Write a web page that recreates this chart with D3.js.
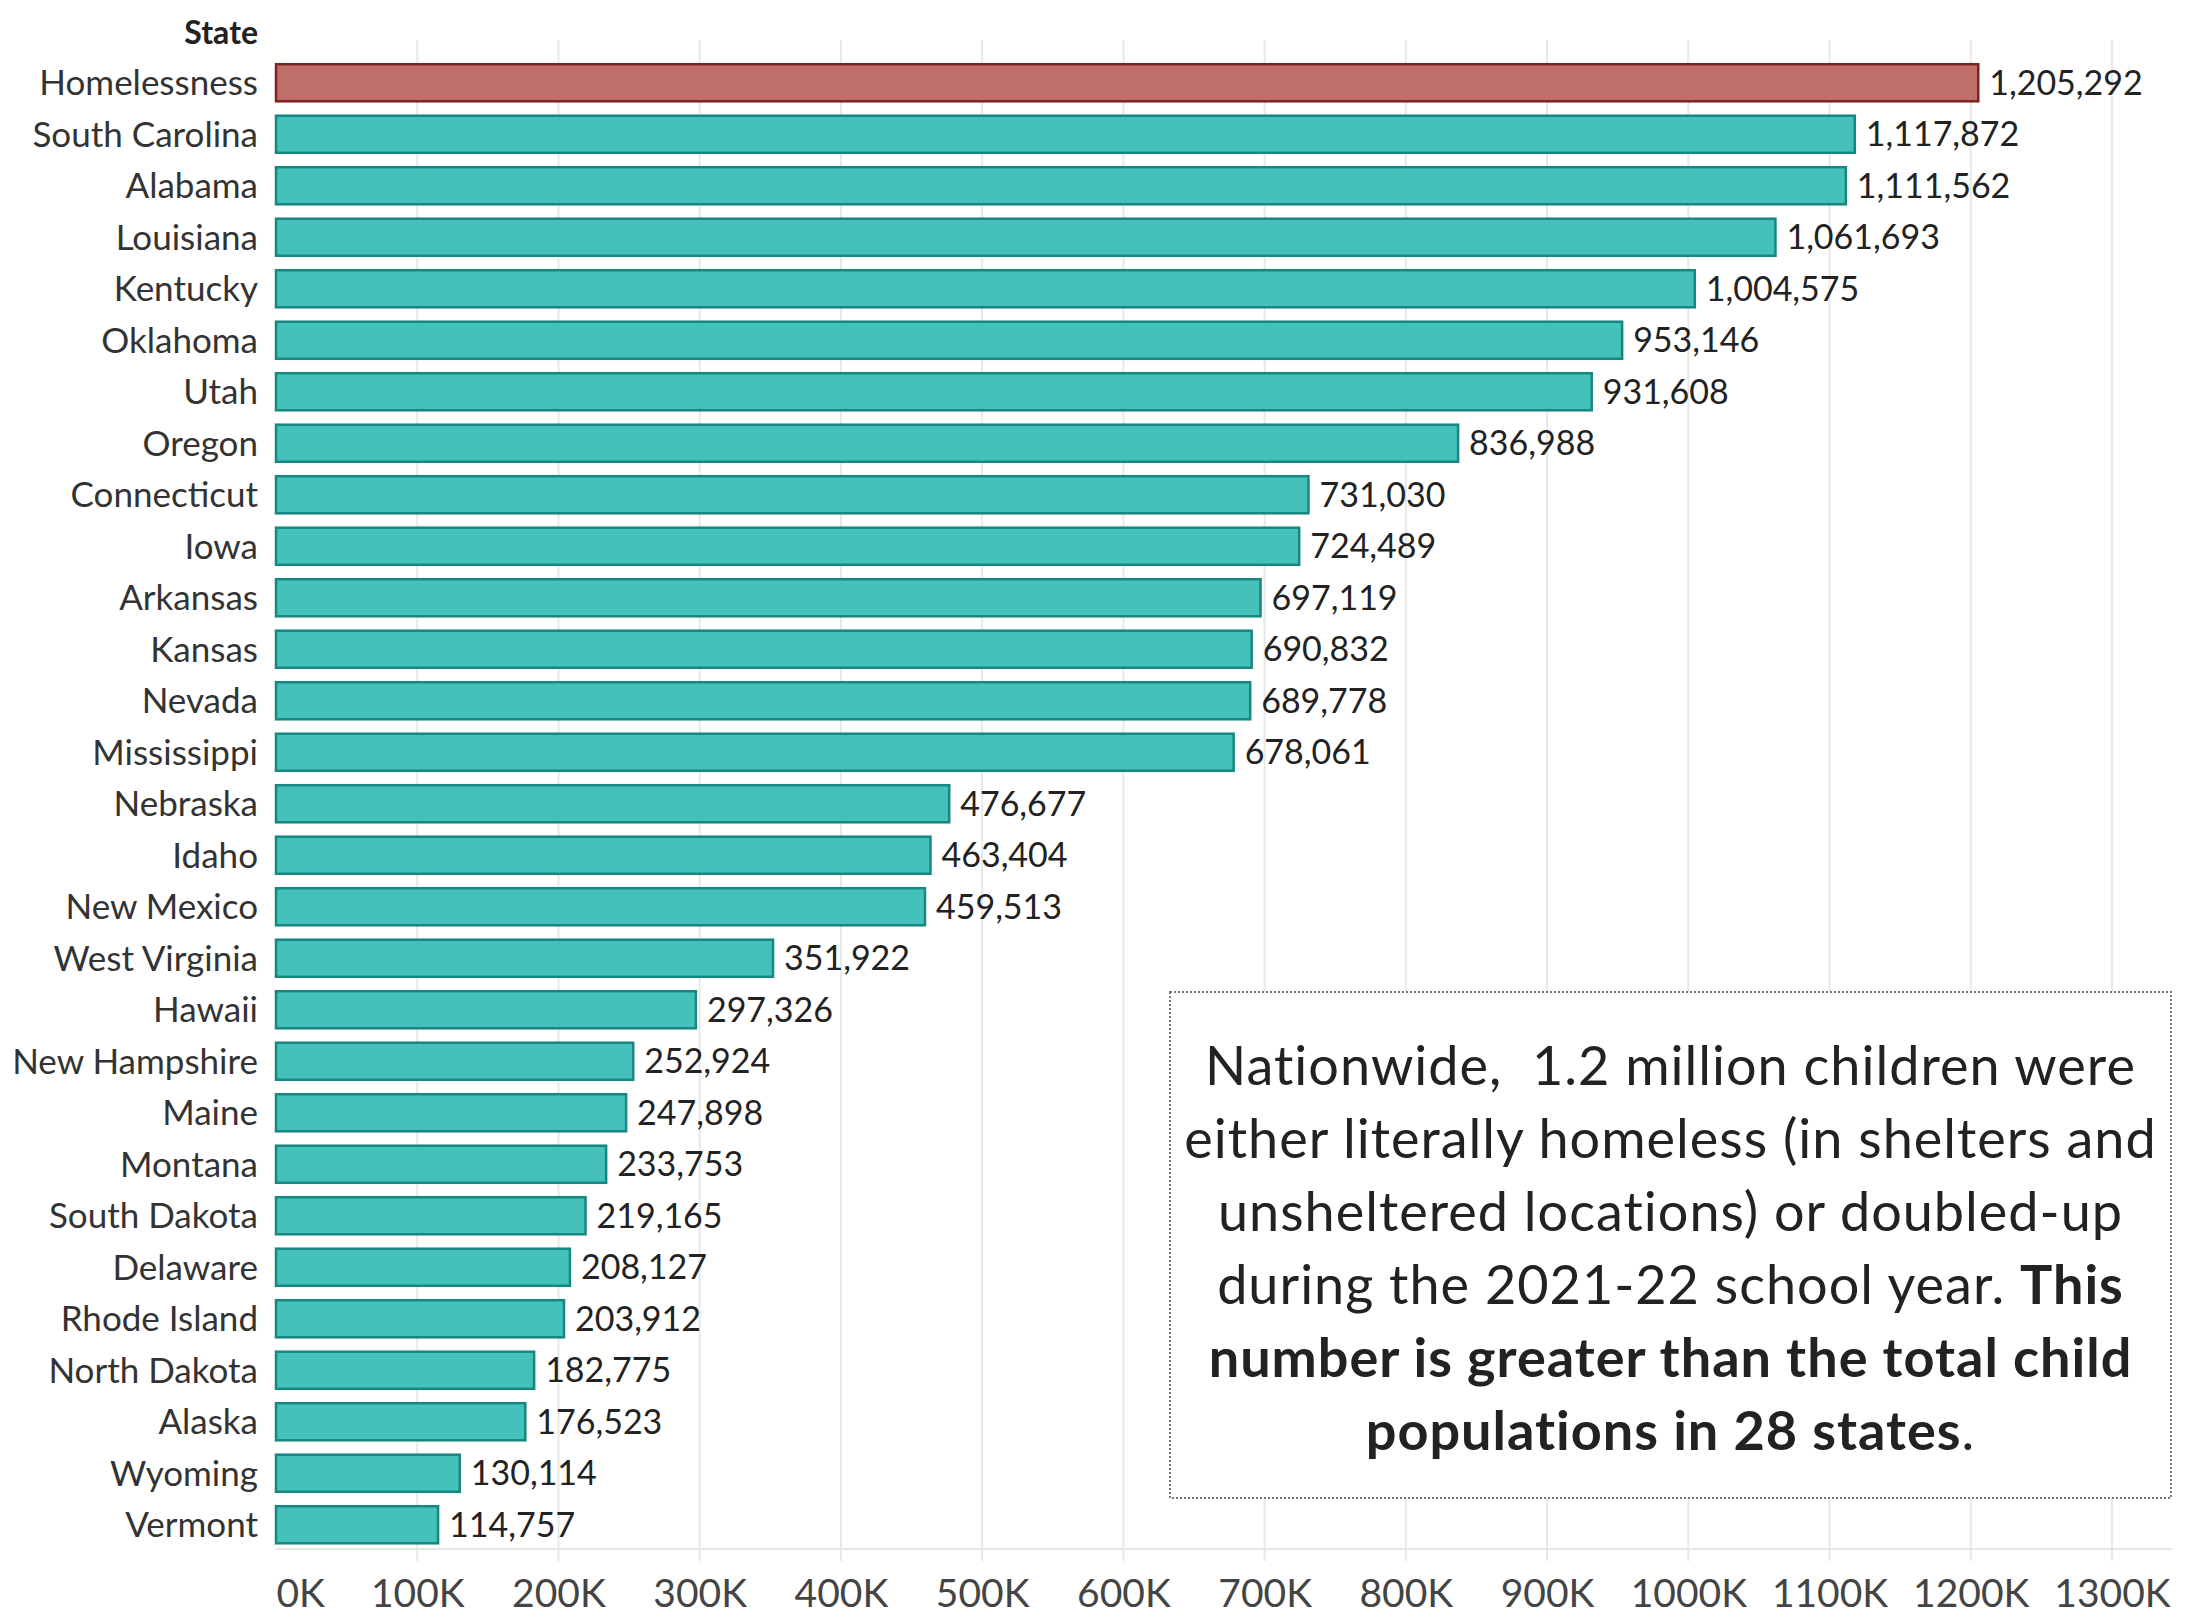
<!DOCTYPE html>
<html>
<head>
<meta charset="utf-8">
<script src="https://cdn.jsdelivr.net/npm/d3@7"></script>
<style>
  body { margin: 0; background: #fff; }
  svg { display: block; font-family: Lato, "Open Sans", sans-serif; }
</style>
</head>
<body>
<svg id="chart" width="2185" height="1621"></svg>
<script>
// data
const states = ["Homelessness", "South Carolina", "Alabama", "Louisiana", "Kentucky", "Oklahoma",
  "Utah", "Oregon", "Connecticut", "Iowa", "Arkansas", "Kansas", "Nevada", "Mississippi",
  "Nebraska", "Idaho", "New Mexico", "West Virginia", "Hawaii", "New Hampshire", "Maine",
  "Montana", "South Dakota", "Delaware", "Rhode Island", "North Dakota", "Alaska", "Wyoming", "Vermont"];
const values = [1205292, 1117872, 1111562, 1061693, 1004575, 953146, 931608, 836988, 731030,
  724489, 697119, 690832, 689778, 678061, 476677, 463404, 459513, 351922, 297326, 252924,
  247898, 233753, 219165, 208127, 203912, 182775, 176523, 130114, 114757];
const tickValues = [0, 100000, 200000, 300000, 400000, 500000, 600000, 700000, 800000,
  900000, 1000000, 1100000, 1200000, 1300000];
const noteLines = [
  [["Nationwide,  1.2 million children were", false]],
  [["either literally homeless (in shelters and", false]],
  [["unsheltered locations) or doubled-up", false]],
  [["during the 2021-22 school year. ", false], ["This", true]],
  [["number is greater than the total child", true]],
  [["populations in 28 states", true], [".", false]]
];

const rows = states.map((s, i) => ({ state: s, value: values[i], highlight: i === 0 }));

const svg = d3.select("#chart");
const x = d3.scaleLinear().domain([0, 1300000]).range([276, 2112]);
const y = d3.scaleBand().domain(states).range([57, 57 + 51.5 * states.length])
  .paddingInner(0.28).paddingOuter(0.14);
const axisY = 1549;

// gridlines
svg.append("g").attr("id", "grid")
  .selectAll("line").data(tickValues.slice(1)).join("line")
  .attr("x1", d => x(d)).attr("x2", d => x(d))
  .attr("y1", 40).attr("y2", axisY + 12)
  .attr("stroke", "#e8e8e8").attr("stroke-width", 2);

// bottom axis
const xAxis = svg.append("g").attr("transform", `translate(0,${axisY})`)
  .call(d3.axisBottom(x).tickValues(tickValues).tickFormat(d => d / 1000 + "K").tickSize(0));
xAxis.select(".domain").attr("stroke", "#e6e6e6").attr("stroke-width", 2)
  .attr("d", `M${x(0)},0H2172`);
xAxis.selectAll("text").attr("font-family", "Lato, sans-serif").attr("font-size", 39)
  .attr("fill", "#444").attr("dy", "0.35em").attr("y", 44);
xAxis.selectAll(".tick").filter(d => d === 0).select("text").attr("text-anchor", "start");

// header
svg.append("text").attr("x", 258).attr("y", 33).attr("dy", "0.35em")
  .attr("text-anchor", "end").attr("font-weight", "bold").attr("font-size", 32)
  .attr("fill", "#222").text("State");

// note box
const box = { x0: 1170, x1: 2171, y0: 992, y1: 1498 };
svg.append("rect").attr("x", box.x0).attr("y", box.y0)
  .attr("width", box.x1 - box.x0).attr("height", box.y1 - box.y0)
  .attr("fill", "#fff").attr("stroke", "#777").attr("stroke-width", 2)
  .attr("stroke-dasharray", "2 2");

const note = svg.append("text").attr("text-anchor", "middle").attr("font-size", 54)
  .attr("letter-spacing", 1).attr("fill", "#222").style("white-space", "pre");
noteLines.forEach((parts, i) => {
  const line = note.append("tspan").attr("x", (box.x0 + box.x1) / 2)
    .attr("y", 1066 + i * 73).attr("dy", "0.35em");
  parts.forEach(([t, b]) => {
    line.append("tspan").attr("font-weight", b ? "bold" : null).text(t);
  });
});

// state labels
svg.append("g").selectAll("text").data(rows).join("text")
  .attr("x", 258).attr("y", d => y(d.state) + y.bandwidth() / 2).attr("dy", "0.35em")
  .attr("text-anchor", "end").attr("font-size", 35).attr("fill", "#333")
  .text(d => d.state);

// bars
svg.append("g").selectAll("rect").data(rows).join("rect")
  .attr("x", x(0)).attr("y", d => y(d.state))
  .attr("width", d => x(d.value) - x(0)).attr("height", y.bandwidth())
  .attr("fill", d => d.highlight ? "#bf6e6a" : "#45c1bb")
  .attr("stroke", d => d.highlight ? "#7a2424" : "#17877f")
  .attr("stroke-width", 2.5);

// value labels
svg.append("g").selectAll("text").data(rows).join("text")
  .attr("x", d => x(d.value) + 11).attr("y", d => y(d.state) + y.bandwidth() / 2).attr("dy", "0.35em")
  .attr("font-size", 34).attr("fill", "#222")
  .text(d => d3.format(",")(d.value));
</script>
</body>
</html>
